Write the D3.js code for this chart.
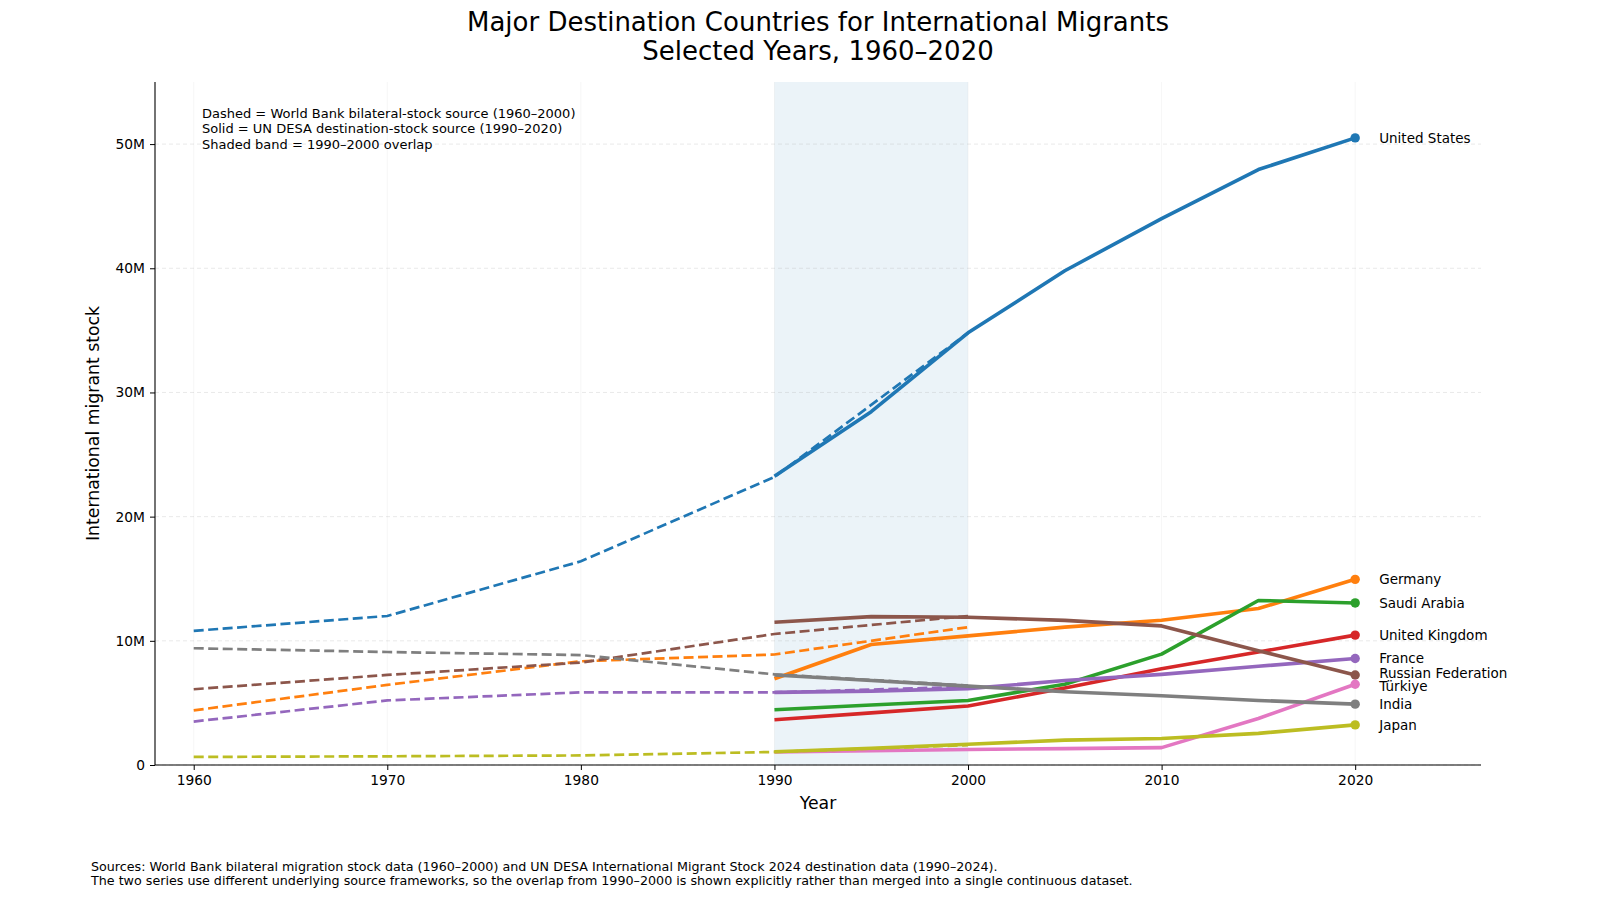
<!DOCTYPE html>
<html>
<head>
<meta charset="utf-8">
<script src="https://cdn.jsdelivr.net/npm/d3@7"></script>
<style>
    body { margin: 0; background: #fff; }
    svg { font-family: "DejaVu Sans", sans-serif; }
</style>
</head>
<body>
<div id="chart"></div>
<script>
// countries and colours (tab10 order)
const countries = ["United States", "Germany", "Saudi Arabia", "United Kingdom", "France",
    "Russian Federation", "Türkiye", "India", "Japan"];
const colors = ["#1f77b4", "#ff7f0e", "#2ca02c", "#d62728", "#9467bd",
    "#8c564b", "#e377c2", "#7f7f7f", "#bcbd22"];

// World Bank bilateral stock (millions), dashed
const wbYears = [1960, 1970, 1980, 1990, 2000];
const wbValues = [
    [10.8, 12.0, 16.4, 23.2, 34.8],
    [4.4, 6.45, 8.35, 8.9, 11.1],
    null,
    null,
    [3.5, 5.2, 5.85, 5.85, 6.3],
    [6.1, 7.25, 8.25, 10.55, 12.0],
    null,
    [9.4, 9.1, 8.85, 7.3, 6.4],
    [0.65, 0.7, 0.77, 1.05, 1.6]
];

// UN DESA destination stock (millions), solid
const unYears = [1990, 1995, 2000, 2005, 2010, 2015, 2020];
const unValues = [
    [23.25, 28.45, 34.8, 39.8, 44.0, 47.95, 50.5],
    [6.95, 9.7, 10.4, 11.1, 11.65, 12.6, 14.95],
    [4.45, 4.83, 5.2, 6.5, 8.93, 13.25, 13.05],
    [3.65, 4.2, 4.75, 6.2, 7.75, 9.1, 10.46],
    [5.85, 5.95, 6.15, 6.8, 7.3, 7.95, 8.58],
    [11.5, 11.95, 11.9, 11.65, 11.2, 9.2, 7.25],
    [1.05, 1.15, 1.25, 1.32, 1.4, 3.75, 6.5],
    [7.25, 6.8, 6.35, 5.9, 5.58, 5.2, 4.9],
    [1.07, 1.35, 1.67, 2.0, 2.13, 2.55, 3.23]
];

const xTicks = [1960, 1970, 1980, 1990, 2000, 2010, 2020];
const yTicks = [0, 10, 20, 30, 40, 50];
const yTickLabels = ["0", "10M", "20M", "30M", "40M", "50M"];
const overlap = [1990, 2000];

const notes = [
    "Dashed = World Bank bilateral-stock source (1960–2000)",
    "Solid = UN DESA destination-stock source (1990–2020)",
    "Shaded band = 1990–2000 overlap"
];
const footer = [
    "Sources: World Bank bilateral migration stock data (1960–2000) and UN DESA International Migrant Stock 2024 destination data (1990–2024).",
    "The two series use different underlying source frameworks, so the overlap from 1990–2000 is shown explicitly rather than merged into a single continuous dataset."
];

var W = 1600, H = 899;
var margin = { left: 155, right: 119, top: 82, bottom: 134 };
var w = W - margin.left - margin.right;
var h = H - margin.top - margin.bottom;

var svg = d3.select("#chart").append("svg")
    .attr("width", W)
    .attr("height", H);

var x = d3.scaleLinear().domain([1958, 2026.5]).range([0, w]);
var y = d3.scaleLinear().domain([0, 55]).range([h, 0]);

var g = svg.append("g")
    .attr("transform", "translate(" + margin.left + "," + margin.top + ")");

// overlap band
g.append("rect")
    .attr("x", x(overlap[0]))
    .attr("y", 0)
    .attr("width", x(overlap[1]) - x(overlap[0]))
    .attr("height", h)
    .style("fill", "#1f77b4")
    .style("opacity", 0.09);

// grid
g.selectAll("line.hgrid").data(yTicks).enter().append("line")
    .attr("class", "hgrid")
    .attr("x1", 0).attr("x2", w)
    .attr("y1", d => y(d)).attr("y2", d => y(d))
    .style("stroke", "#b0b0b0")
    .style("stroke-opacity", 0.35)
    .style("stroke-dasharray", "4,3")
    .style("stroke-width", 0.8);

g.selectAll("line.vgrid").data(xTicks).enter().append("line")
    .attr("class", "vgrid")
    .attr("y1", 0).attr("y2", h)
    .attr("x1", d => x(d)).attr("x2", d => x(d))
    .style("stroke", "#b0b0b0")
    .style("stroke-opacity", 0.15)
    .style("stroke-width", 0.8);

var line = d3.line()
    .defined(d => d[1] != null)
    .x(d => x(d[0]))
    .y(d => y(d[1]));

// series
countries.forEach(function (c, i) {
    if (wbValues[i]) {
        g.append("path")
            .datum(wbYears.map((yr, j) => [yr, wbValues[i][j]]))
            .attr("d", line)
            .style("fill", "none")
            .style("stroke", colors[i])
            .style("stroke-width", 2.7)
            .style("stroke-dasharray", "10,4.5");
    }
    g.append("path")
        .datum(unYears.map((yr, j) => [yr, unValues[i][j]]))
        .attr("d", line)
        .style("fill", "none")
        .style("stroke", colors[i])
        .style("stroke-width", 3.6)
        .style("stroke-linejoin", "round");

    var last = unValues[i].length - 1;
    g.append("circle")
        .attr("cx", x(unYears[last]))
        .attr("cy", y(unValues[i][last]))
        .attr("r", 4.7)
        .style("fill", colors[i]);
});

// end labels, pushed apart when they crowd
var labels = countries.map((c, i) => ({ name: c, pos: y(unValues[i][unValues[i].length - 1]) }));
labels.sort((a, b) => a.pos - b.pos);
var gap = 13.2;
for (var it = 0; it < 200; it++) {
    var moved = false;
    for (var k = 1; k < labels.length; k++) {
        var d = labels[k].pos - labels[k - 1].pos;
        if (d < gap) {
            var shift = (gap - d) / 2;
            labels[k - 1].pos -= shift;
            labels[k].pos += shift;
            moved = true;
        }
    }
    if (!moved) break;
}
g.selectAll("text.endlabel").data(labels).enter().append("text")
    .attr("class", "endlabel")
    .attr("x", x(2020) + 24)
    .attr("y", d => d.pos)
    .attr("dy", "0.35em")
    .style("font-size", "13.5px")
    .style("fill", "#000")
    .text(d => d.name);

// axes
var xAxis = g.append("g")
    .attr("transform", "translate(0," + h + ")")
    .call(d3.axisBottom(x).tickValues(xTicks).tickFormat(d3.format("d")).tickSize(5).tickPadding(5));
var yAxis = g.append("g")
    .call(d3.axisLeft(y).tickValues(yTicks).tickFormat((d, i) => yTickLabels[i]).tickSize(5).tickPadding(5));
[xAxis, yAxis].forEach(function (a) {
    a.selectAll("text").style("font-size", "13.8px").style("fill", "#000").style("font-family", "DejaVu Sans");
    a.selectAll("line").style("stroke", "#000").style("stroke-width", 1);
    a.select(".domain").style("stroke", "#000").style("stroke-width", 1.1);
});
yAxis.select(".domain").attr("d", "M0," + h + "V0");
xAxis.select(".domain").attr("d", "M0,0H" + w);

// axis titles
g.append("text")
    .attr("x", w / 2)
    .attr("y", h + 44)
    .attr("text-anchor", "middle")
    .style("font-size", "17.3px")
    .text("Year");
g.append("text")
    .attr("transform", "translate(" + (-56) + "," + (h / 2) + ") rotate(-90)")
    .attr("text-anchor", "middle")
    .style("font-size", "17.3px")
    .text("International migrant stock");

// notes in the corner
g.selectAll("text.note").data(notes).enter().append("text")
    .attr("class", "note")
    .attr("x", 47)
    .attr("y", (d, i) => 31 + i * 15.5)
    .attr("dy", "0.35em")
    .style("font-size", "13px")
    .text(d => d);

// title
svg.append("text")
    .attr("x", margin.left + w / 2)
    .attr("y", 22)
    .attr("dy", "0.35em")
    .attr("text-anchor", "middle")
    .style("font-size", "26px")
    .text("Major Destination Countries for International Migrants");
svg.append("text")
    .attr("x", margin.left + w / 2)
    .attr("y", 51)
    .attr("dy", "0.35em")
    .attr("text-anchor", "middle")
    .style("font-size", "26px")
    .text("Selected Years, 1960–2020");

// footer
svg.selectAll("text.foot").data(footer).enter().append("text")
    .attr("class", "foot")
    .attr("x", 91)
    .attr("y", (d, i) => 867 + i * 14)
    .attr("dy", "0.35em")
    .style("font-size", "12.7px")
    .text(d => d);
</script>
</body>
</html>
